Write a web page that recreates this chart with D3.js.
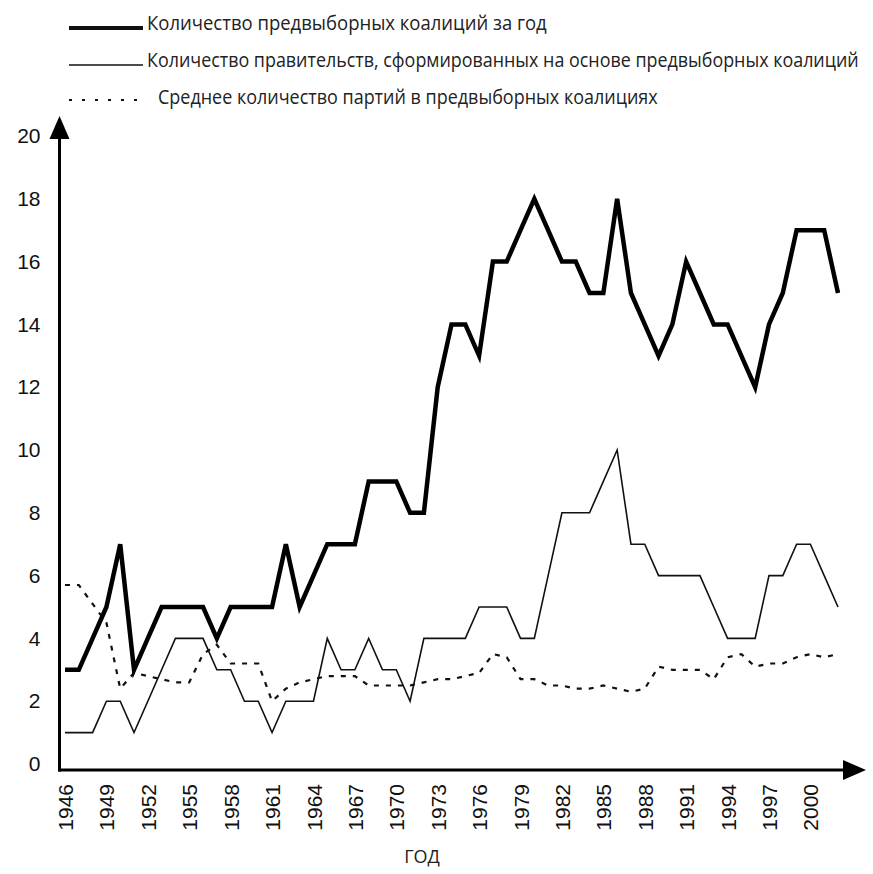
<!DOCTYPE html>
<html>
<head>
<meta charset="utf-8">
<script src="https://cdn.jsdelivr.net/npm/d3@7"></script>
<style>
  html, body { margin: 0; padding: 0; background: #fff; }
  svg { display: block; }
</style>
</head>
<body>
<svg id="chart" width="873" height="874"></svg>
<script>
const years = d3.range(1946, 2003);
const coalitions = [3,3,4,5,7,3,4,5,5,5,5,4,5,5,5,5,7,5,6,7,7,7,9,9,9,8,8,12,14,14,13,16,16,17,18,17,16,16,15,15,18,15,14,13,14,16,15,14,14,13,12,14,15,17,17,17,15];
const governments = [1,1,1,2,2,1,2,3,4,4,4,3,3,2,2,1,2,2,2,4,3,3,4,3,3,2,4,4,4,4,5,5,5,4,4,6,8,8,8,9,10,7,7,6,6,6,6,5,4,4,4,6,6,7,7,6,5];
const avgParties = [5.7,5.7,5.1,4.5,2.4,2.9,2.8,2.7,2.6,2.6,3.5,3.8,3.2,3.2,3.2,2.0,2.4,2.6,2.7,2.8,2.8,2.8,2.5,2.5,2.5,2.5,2.6,2.7,2.7,2.8,2.9,3.5,3.4,2.7,2.7,2.5,2.5,2.4,2.4,2.5,2.4,2.3,2.4,3.1,3.0,3.0,3.0,2.7,3.4,3.5,3.1,3.2,3.2,3.4,3.5,3.4,3.5];
const xTickYears = d3.range(1946, 2001, 3);
const yTickValues = d3.range(0, 21, 2);
const legendLabels = [
  "Количество предвыборных коалиций за  год",
  "Количество правительств, сформированных на основе предвыборных коалиций",
  "Среднее количество партий в предвыборных коалициях"
];
const xTitle = "ГОД";

const svg = d3.select("#chart");
const x = d3.scaleLinear().domain([1946, 2002]).range([65, 838]);
const y = d3.scaleLinear().domain([0, 20]).range([764, 136]);
const axisX0 = 59.5, axisY0 = 770;

// Axes lines with arrows
svg.append("line").attr("x1", axisX0).attr("x2", axisX0).attr("y1", axisY0 + 1.5).attr("y2", 136)
  .attr("stroke", "#000").attr("stroke-width", 3);
svg.append("path").attr("d", `M${axisX0},116 L${axisX0 - 10},139 L${axisX0 + 10},139 Z`).attr("fill", "#000");
svg.append("line").attr("x1", axisX0 - 1.5).attr("x2", 845).attr("y1", axisY0).attr("y2", axisY0)
  .attr("stroke", "#000").attr("stroke-width", 3);
svg.append("path").attr("d", `M866,${axisY0} L843,${axisY0 - 10} L843,${axisY0 + 10} Z`).attr("fill", "#000");

// Y axis labels
const gy = svg.append("g").attr("transform", `translate(${axisX0},0)`)
  .call(d3.axisLeft(y).tickValues(yTickValues).tickSize(0).tickPadding(19).tickFormat(d3.format("d")));
gy.select(".domain").remove();
gy.selectAll("text").attr("font-family", "'Liberation Sans', Arial, sans-serif").attr("font-size", 21).attr("fill", "#111");

// X axis labels
const gx = svg.append("g").attr("transform", `translate(0,${axisY0})`)
  .call(d3.axisBottom(x).tickValues(xTickYears).tickSize(0).tickFormat(d3.format("d")));
gx.select(".domain").remove();
gx.selectAll("text")
  .attr("font-family", "'Liberation Sans', Arial, sans-serif").attr("font-size", 21).attr("fill", "#111")
  .attr("transform", "rotate(-90)")
  .attr("text-anchor", "end")
  .attr("x", -14).attr("y", 0).attr("dy", "0.36em");

svg.append("text").attr("x", 422).attr("y", 858).attr("text-anchor", "middle")
  .attr("dominant-baseline", "middle")
  .attr("font-family", "'Open Sans', sans-serif").attr("font-size", 18)
  .attr("fill", "#222").text(xTitle);

// Lines
const mk = arr => d3.line().x((d, i) => x(years[i])).y(d => y(d))(arr);
svg.append("path").attr("d", mk(avgParties)).attr("fill", "none").attr("stroke", "#111")
  .attr("stroke-width", 2.2).attr("stroke-dasharray", "5,7");
svg.append("path").attr("d", mk(governments)).attr("fill", "none").attr("stroke", "#111")
  .attr("stroke-width", 1.6).attr("stroke-linejoin", "miter");
svg.append("path").attr("d", mk(coalitions)).attr("fill", "none").attr("stroke", "#000")
  .attr("stroke-width", 4.5).attr("stroke-linejoin", "miter");

// Legend
const legend = [
  {y: 28, ty: 25, tx: 147, tlen: 400, w: 4, dash: null},
  {y: 65, ty: 62, tx: 147, tlen: 712, w: 1.6, dash: null},
  {y: 100, ty: 99, tx: 158, tlen: 500, w: 2.2, dash: "3,10"}
];
legend.forEach((l, i) => {
  const ln = svg.append("line").attr("x1", 69).attr("x2", 143).attr("y1", l.y).attr("y2", l.y)
    .attr("stroke", "#111").attr("stroke-width", l.w);
  if (l.dash) ln.attr("stroke-dasharray", l.dash);
  const t = svg.append("text").attr("x", 0).attr("y", 0).attr("dominant-baseline", "middle")
    .attr("font-family", "'Open Sans', sans-serif").attr("font-size", 20)
    .attr("fill", "#222")
    .text(legendLabels[i]);
  const natural = t.node().getComputedTextLength();
  const sx = l.tlen / natural;
  t.attr("transform", `translate(${l.tx},${l.ty}) scale(${sx},1)`);
});
</script>
</body>
</html>
